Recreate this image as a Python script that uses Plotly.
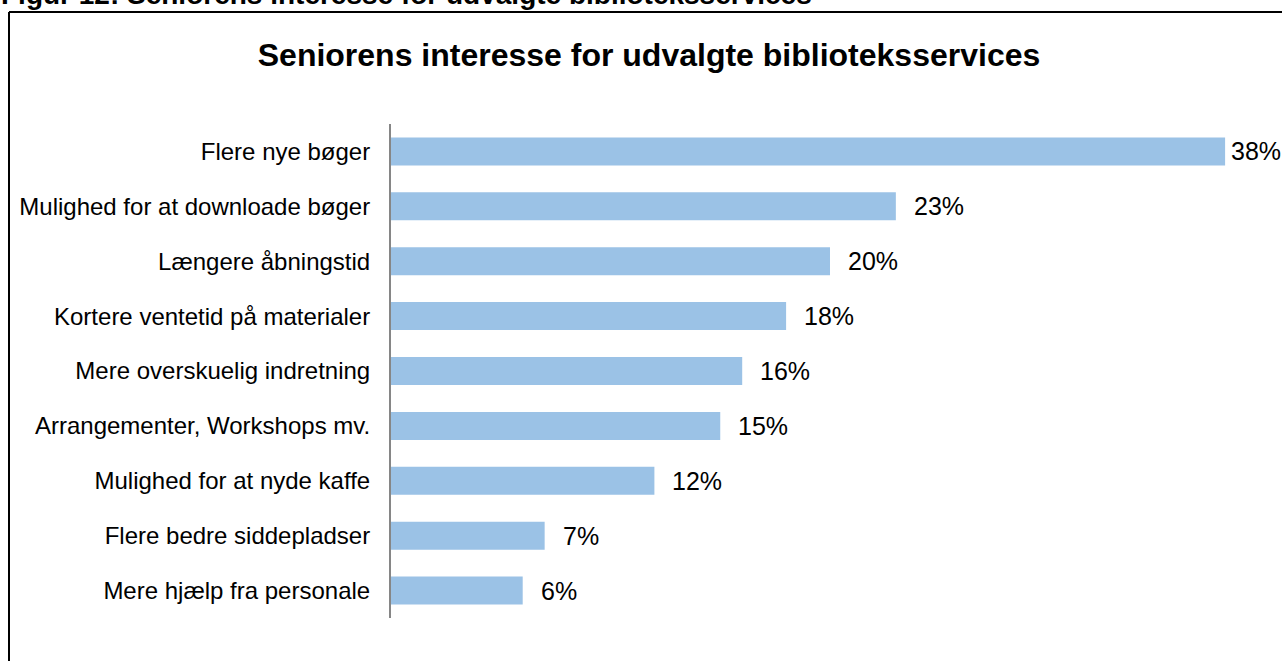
import plotly.graph_objects as go

# Survey answers: share of seniors interested in each library service (%)
services = [
    "Flere nye bøger",
    "Mulighed for at downloade bøger",
    "Længere åbningstid",
    "Kortere ventetid på materialer",
    "Mere overskuelig indretning",
    "Arrangementer, Workshops mv.",
    "Mulighed for at nyde kaffe",
    "Flere bedre siddepladser",
    "Mere hjælp fra personale",
]
shares = [38, 23, 20, 18, 16, 15, 12, 7, 6]

caption = "Figur 12: Seniorens interesse for udvalgte biblioteksservices"
title = "Seniorens interesse for udvalgte biblioteksservices"

W, H = 1282, 661
ML, MR, MT, MB = 391, 13, 124, 43
PW, PH = W - ML - MR, H - MT - MB
FONT = "Liberation Sans, Arial, sans-serif"


def px_x(px):
    return (px - ML) / PW


def px_y(py):
    return (H - MB - py) / PH


fig = go.Figure(
    go.Bar(
        x=shares,
        y=services,
        orientation="h",
        marker=dict(color="#9BC2E6", line=dict(width=0)),
        hoverinfo="skip",
    )
)

# value labels to the right of each bar
for s, v in zip(services, shares):
    fig.add_annotation(
        x=v, y=s, xref="x", yref="y",
        text=f"{v}%", showarrow=False,
        xanchor="left", yanchor="middle",
        xshift=4 if v == max(shares) else 16,
        font=dict(family=FONT, size=25, color="#000000"),
    )

# caption above the frame
fig.add_annotation(
    x=px_x(-1), y=px_y(12), xref="paper", yref="paper",
    text=f"<b>{caption}</b>", showarrow=False,
    xanchor="left", yanchor="bottom",
    font=dict(family=FONT, size=28, color="#000000"),
)

# frame around the chart (left and top edges)
frame = dict(color="#000000", width=2)
fig.add_shape(type="line", xref="paper", yref="paper",
              x0=px_x(9), x1=px_x(W + 20), y0=px_y(12), y1=px_y(12), line=frame)
fig.add_shape(type="line", xref="paper", yref="paper",
              x0=px_x(9), x1=px_x(9), y0=px_y(12), y1=px_y(H + 20), line=frame)

fig.update_layout(
    width=W, height=H,
    margin=dict(l=ML, r=MR, t=MT, b=MB),
    paper_bgcolor="#ffffff", plot_bgcolor="#ffffff",
    bargap=0.49,
    showlegend=False,
    title=dict(
        text=f"<b>{title}</b>",
        xref="container", yref="container",
        x=649 / W, y=1 - 55 / H, xanchor="center", yanchor="middle",
        font=dict(family=FONT, size=32, color="#000000"),
    ),
    xaxis=dict(range=[0, 40], visible=False, fixedrange=True),
    yaxis=dict(
        categoryorder="array", categoryarray=services[::-1],
        showline=True, linecolor="#868686", linewidth=2,
        showgrid=False, zeroline=False, ticks="",
        ticklabelstandoff=14,
        tickfont=dict(family=FONT, size=24, color="#000000"),
        fixedrange=True,
    ),
)

fig.write_html("out.html")
